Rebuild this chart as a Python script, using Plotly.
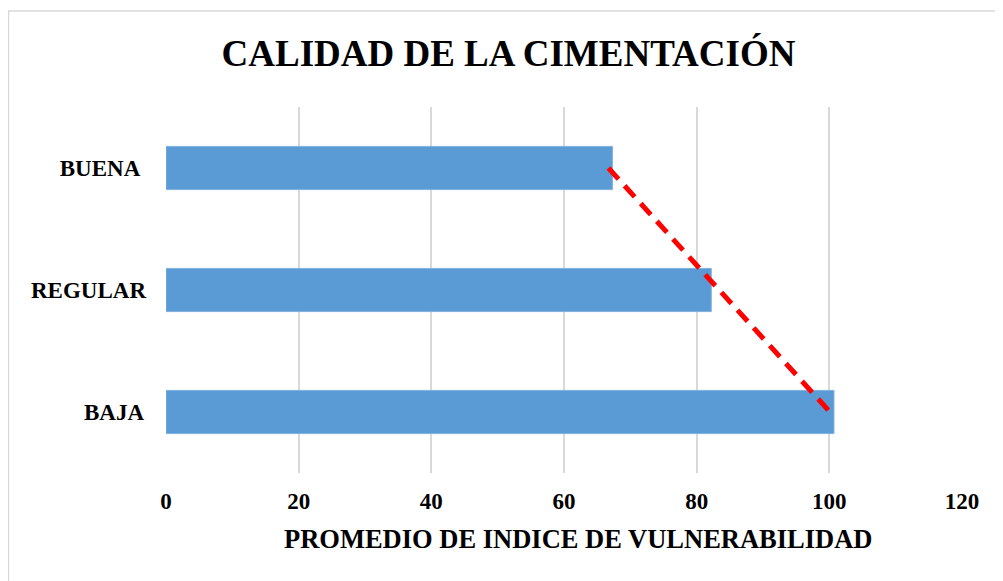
import numpy as np
import plotly.graph_objects as go

categories = ["BUENA", "REGULAR", "BAJA"]
category_labels = ["BUENA\u00a0", "REGULAR", "BAJA\u200a"]
values = [67.3, 82.2, 100.7]
x_ticks = [0, 20, 40, 60, 80, 100, 120]

title_text = "CALIDAD DE LA CIMENTACIÓN"
x_title = "PROMEDIO DE INDICE DE VULNERABILIDAD"

# linear trendline through the series (Excel-style)
idx = np.arange(len(values))
coef = np.polyfit(idx, values, 1)
trend = np.polyval(coef, idx)

FONT = "Liberation Serif"
W, H = 995, 573
L, T = 158, 99
PW, PH = 796, 366

fig = go.Figure()
fig.add_trace(go.Bar(
    y=categories, x=values, orientation="h",
    marker=dict(color="#5B9BD5", line=dict(color="#7FB0DE", width=1)),
    width=0.354, showlegend=False, hoverinfo="x+y",
))
fig.add_trace(go.Scatter(
    y=categories, x=trend, mode="lines",
    line=dict(color="#FF0000", width=5, dash="15px,9px"),
    showlegend=False, hoverinfo="skip",
))

fig.update_layout(
    width=W, height=H,
    margin=dict(l=L, r=W - L - PW, t=T, b=H - T - PH),
    paper_bgcolor="white", plot_bgcolor="white",
    font=dict(family=FONT, color="black"),
    title=dict(
        text="<b>" + title_text + "</b>",
        font=dict(family=FONT, size=37, color="black"),
        x=500.5 / W, xref="container", xanchor="center",
        y=1 - 45 / H, yref="container", yanchor="middle",
    ),
    xaxis=dict(
        range=[0, 120], tickvals=x_ticks,
        ticktext=["<b>%d</b>" % t for t in x_ticks],
        tickfont=dict(family=FONT, size=23, color="black"),
        showgrid=True, gridcolor="#D9D9D9", gridwidth=1.5,
        zeroline=False, showline=False, ticks="",
        ticklabelstandoff=12,
    ),
    yaxis=dict(
        categoryorder="array", categoryarray=categories,
        autorange="reversed",
        tickvals=categories,
        ticktext=["<b>" + c + "</b>" for c in category_labels],
        tickfont=dict(family=FONT, size=23, color="black"),
        showgrid=False, zeroline=False, showline=False, ticks="",
        ticklabelstandoff=19,
    ),
    annotations=[dict(
        text="<b>" + x_title + "</b>",
        xref="paper", yref="paper",
        x=(569.5 - L) / PW, y=1 - (531 - T) / PH,
        xanchor="center", yanchor="middle", showarrow=False,
        font=dict(family=FONT, size=26.5, color="black"),
    )],
    shapes=[dict(
        type="rect", xref="paper", yref="paper",
        x0=(0.5 - L) / PW, x1=(W + 10 - L) / PW,
        y0=-(H + 20 - T - PH) / PH, y1=1 + (T - 3) / PH,
        line=dict(color="#D9D9D9", width=1.5), fillcolor="rgba(0,0,0,0)",
        layer="below",
    )],
)

fig.write_html("out.html")
